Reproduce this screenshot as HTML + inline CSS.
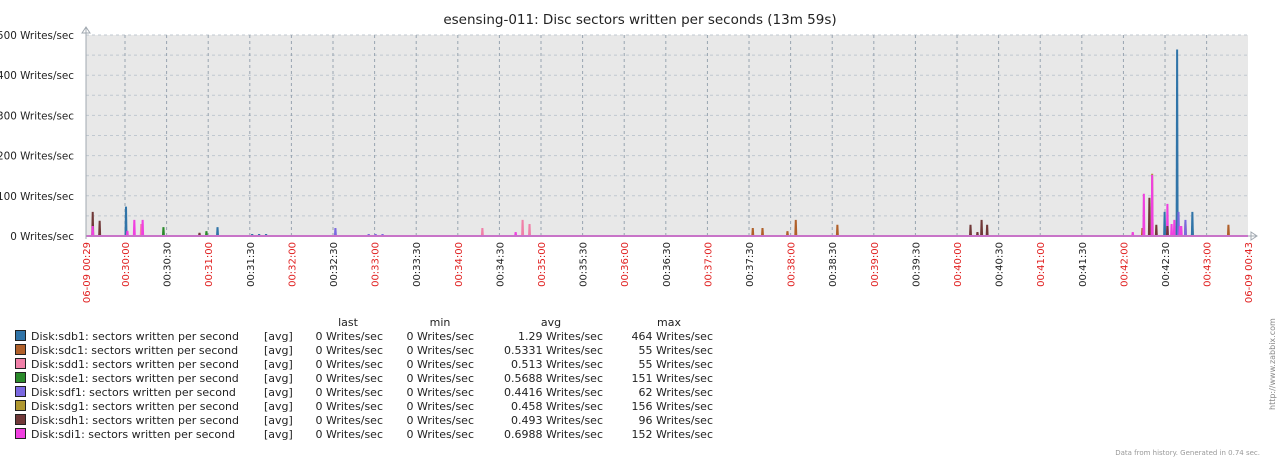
<!DOCTYPE html>
<html><head><meta charset="utf-8"><style>
body{margin:0;background:#fff;width:1279px;height:460px;overflow:hidden}
svg{display:block;font-family:"DejaVu Sans","Liberation Sans",sans-serif}
</style></head><body>
<svg id="c" width="1279" height="460">
<rect x="0" y="0" width="1279" height="460" fill="#fff"/>
<text x="640" y="24" text-anchor="middle" font-size="13.5" fill="#222">esensing-011: Disc sectors written per seconds (13m 59s)</text>
<rect x="86" y="35" width="1162" height="201" fill="#e8e8e8"/>
<g id="grid"></g><g id="marks"></g><g id="axes"></g><g id="legend"></g>
<text transform="translate(1275,410) rotate(-90)" font-size="8" fill="#888">http://www.zabbix.com</text>
<text x="1260" y="455" text-anchor="end" font-size="7" fill="#999">Data from history. Generated in 0.74 sec.</text>
</svg>
<script>
const seriesNames=["sdb1","sdc1","sdd1","sde1","sdf1","sdg1","sdh1","sdi1"];
const seriesColors=["#3074a8","#b0602a","#f080a8","#2a8a2a","#7a68e0","#b09830","#703838","#f040e0"];
const lastVals=["0 Writes/sec","0 Writes/sec","0 Writes/sec","0 Writes/sec","0 Writes/sec","0 Writes/sec","0 Writes/sec","0 Writes/sec"];
const minVals=["0 Writes/sec","0 Writes/sec","0 Writes/sec","0 Writes/sec","0 Writes/sec","0 Writes/sec","0 Writes/sec","0 Writes/sec"];
const avgVals=["1.29 Writes/sec","0.5331 Writes/sec","0.513 Writes/sec","0.5688 Writes/sec","0.4416 Writes/sec","0.458 Writes/sec","0.493 Writes/sec","0.6988 Writes/sec"];
const maxVals=["464 Writes/sec","55 Writes/sec","55 Writes/sec","151 Writes/sec","62 Writes/sec","156 Writes/sec","96 Writes/sec","152 Writes/sec"];
const yTicks=[0,100,200,300,400,500];
// spikes: series index, seconds after 00:30:00, value
const spikeSeries=[6,7,6,0,7,2,7,7,3,6,3,0,0,0,0,4,4,4,4,2,7,2,2,1,1,1,1,1,6,6,6,6,7,1,7,6,5,7,6,0,7,6,7,7,7,0,4,7,5,4,3,0,1];
const spikeTimes=[-24,-24,-19,0,1,11,6,12,27,53,58,66,91,96,101,151,175,180,185,257,281,286,291,452,459,477,483,513,609,614,617,621,726,733,734,738,740,740,743,749,751,751,754,756,761,758,759,760,764,764,769,769,795];
const spikeVals=[60,25,38,73,13,30,40,40,22,8,12,22,5,5,5,20,5,5,5,20,10,40,30,20,20,12,40,28,28,10,40,28,10,20,105,95,155,152,28,60,80,25,30,40,25,464,60,25,35,40,25,60,28];
const ns="http://www.w3.org/2000/svg";
const X0=86,X1=1248,YT=35,YB=236;
const xs=t=>125+t*1.3867;
const ys=v=>YB-(v/500)*(YB-YT);
function mk(tag,attrs,parent){const e=document.createElementNS(ns,tag);for(const k in attrs)e.setAttribute(k,attrs[k]);parent.appendChild(e);return e;}
const grid=document.getElementById('grid'),marks=document.getElementById('marks'),axes=document.getElementById('axes'),legend=document.getElementById('legend');
for(let v=50;v<=500;v+=50){const l=mk('line',{x1:X0,x2:X1,y1:ys(v),y2:ys(v),stroke:'#c0c8d0','stroke-dasharray':'3,3'},grid);

}
yTicks.forEach(v=>{const t=mk('text',{x:74,y:ys(v)+4,'text-anchor':'end','font-size':'10.4',fill:'#222'},axes);t.textContent=v+' Writes/sec';

});
function fmt(s){const m=Math.floor(s/60),ss=s%60;return '00:'+String(30+m).padStart(2,'0')+':'+String(ss).padStart(2,'0');}
for(let s=0;s<=780;s+=30){const x=xs(s);const l=mk('line',{x1:x,x2:x,y1:YT,y2:YB,stroke:'#98a4b0','stroke-dasharray':'3,3'},grid);


const t=mk('text',{transform:`translate(${x+4},242) rotate(-90)`,'text-anchor':'end','font-size':'10',fill:s%60==0?'#e02020':'#222'},axes);t.textContent=fmt(s);

}
[[X0,'06-09 00:29'],[X1,'06-09 00:43']].forEach(([x,s])=>{const t=mk('text',{transform:`translate(${x+4},242) rotate(-90)`,'text-anchor':'end','font-size':'10',fill:'#e02020'},axes);t.textContent=s;

});
for(let i=0;i<spikeTimes.length;i++){const x=xs(spikeTimes[i]),y=ys(spikeVals[i]);
const p=mk('polygon',{points:`${x-0.5},${YB} ${x},${y} ${x+2},${y} ${x+2.5},${YB}`,fill:seriesColors[spikeSeries[i]]},marks);

}
const zl=mk('line',{x1:X0,x2:X1,y1:YB,y2:YB,stroke:'#f040e0','stroke-width':2},marks);


const ya=mk('path',{d:`M${X0} ${YB+3}V28M${X0-4} 33L${X0} 27L${X0+4} 33Z`,stroke:'#a0a8b0',fill:'none'},axes);


const xa=mk('path',{d:`M${X0} ${YB}H1256M1251 ${YB-4}L1257 ${YB}L1251 ${YB+4}Z`,stroke:'#a0a8b0',fill:'none'},axes);


[['last',348],['min',440],['avg',551],['max',669]].forEach(([h,x])=>{const t=mk('text',{x:x,y:326,'text-anchor':'middle','font-size':'11',fill:'#222'},legend);t.textContent=h;

});
seriesNames.forEach((n,i)=>{const y=340+i*14;
const r=mk('rect',{x:15.5,y:y-9.5,width:10,height:10,fill:seriesColors[i],stroke:'#222'},legend);


const cells=[['Disk:'+n+': sectors written per second',31,'start'],['[avg]',264,'start'],[lastVals[i],383,'end'],[minVals[i],474,'end'],[avgVals[i],603,'end'],[maxVals[i],713,'end']];
cells.forEach(([s,x,a])=>{const t=mk('text',{x:x,y:y,'text-anchor':a,'font-size':'11',fill:'#222'},legend);t.textContent=s;

});});
</script>
</body></html>
